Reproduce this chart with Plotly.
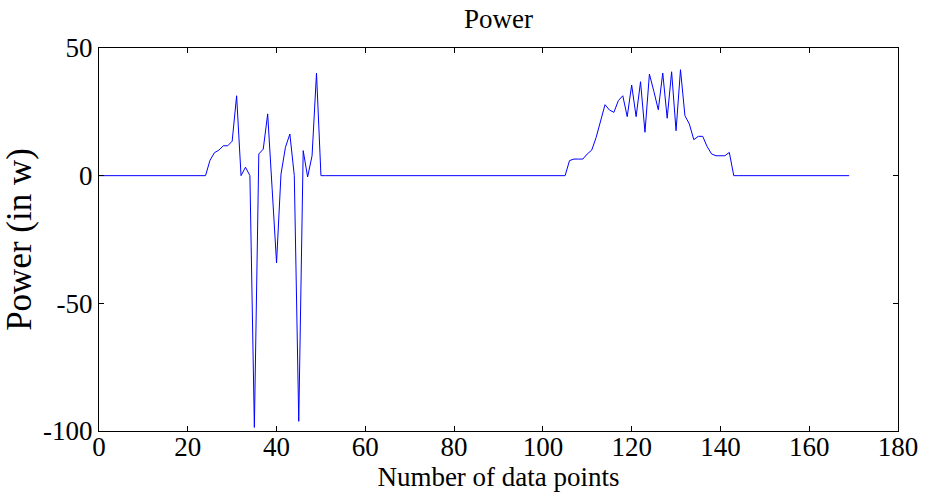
import plotly.graph_objects as go

# Power samples, one per data point index (0..169)
power = [
    0, 0, 0, 0, 0, 0, 0, 0, 0, 0,
    0, 0, 0, 0, 0, 0, 0, 0, 0, 0,
    0, 0, 0, 0, 0,
    6, 9, 10, 11.7, 11.7, 13.5, 31.3, 0, 3.3, 0,
    -98.6, 8.5, 10.4, 24.2, -5, -34.2, 0.6, 11.1, 16.3, 0,
    -96.2, 9.8, -0.5, 7.8, 40.2, 0,
    0, 0, 0, 0, 0, 0, 0, 0, 0, 0,
    0, 0, 0, 0, 0, 0, 0, 0, 0, 0,
    0, 0, 0, 0, 0, 0, 0, 0, 0, 0,
    0, 0, 0, 0, 0, 0, 0, 0, 0, 0,
    0, 0, 0, 0, 0, 0, 0, 0, 0, 0,
    0, 0, 0, 0, 0,
    5.9, 6.5, 6.5, 6.5, 8.5, 10, 15, 21.5, 27.8, 25.7,
    24.8, 29.4, 31.3, 23.1, 35.5, 23.1, 36.8, 17, 39.8, 33,
    25.8, 40.2, 22.5, 40.7, 17.6, 41.5, 23.5, 20.2, 14.1, 15.4,
    15.4, 11.4, 8.5, 7.8, 7.8, 7.8, 9.1, 0,
    0, 0, 0, 0, 0, 0, 0, 0, 0, 0,
    0, 0, 0, 0, 0, 0, 0, 0, 0, 0,
    0, 0, 0, 0, 0, 0,
]
index = list(range(len(power)))

x_ticks = [0, 20, 40, 60, 80, 100, 120, 140, 160, 180]
y_ticks = [-100, -50, 0, 50]

FONT = "Liberation Serif"

fig = go.Figure(
    go.Scatter(
        x=index,
        y=power,
        mode="lines",
        line=dict(color="#0000FF", width=1),
        hoverinfo="skip",
    )
)

axis_common = dict(
    showline=True,
    linecolor="black",
    linewidth=1,
    mirror="ticks",
    ticks="inside",
    ticklen=5,
    tickwidth=1,
    tickcolor="black",
    showgrid=False,
    zeroline=False,
    tickfont=dict(family=FONT, size=27, color="black"),
)

fig.update_xaxes(
    range=[0, 180],
    tickvals=x_ticks,
    ticktext=[str(t) for t in x_ticks],
    title=dict(text="Number of data points",
               font=dict(family=FONT, size=27, color="black"),
               standoff=0),
    ticklabelstandoff=-8,
    **axis_common,
)
fig.update_yaxes(
    range=[-100, 50],
    tickvals=y_ticks,
    ticktext=[str(t) for t in y_ticks],
    title=dict(text="Power (in w)",
               font=dict(family=FONT, size=35, color="black"),
               standoff=2),
    ticklabelstandoff=0,
    **axis_common,
)

fig.update_layout(
    width=930,
    height=502,
    margin=dict(l=99, r=26, t=48, b=71),
    paper_bgcolor="white",
    plot_bgcolor="white",
    showlegend=False,
    title=dict(
        text="Power",
        font=dict(family=FONT, size=27, color="black"),
        x=0.5,
        xref="paper",
        xanchor="center",
        y=1,
        yref="container",
        yanchor="top",
        pad=dict(t=9),
    ),
)

fig.write_html("out.html")
